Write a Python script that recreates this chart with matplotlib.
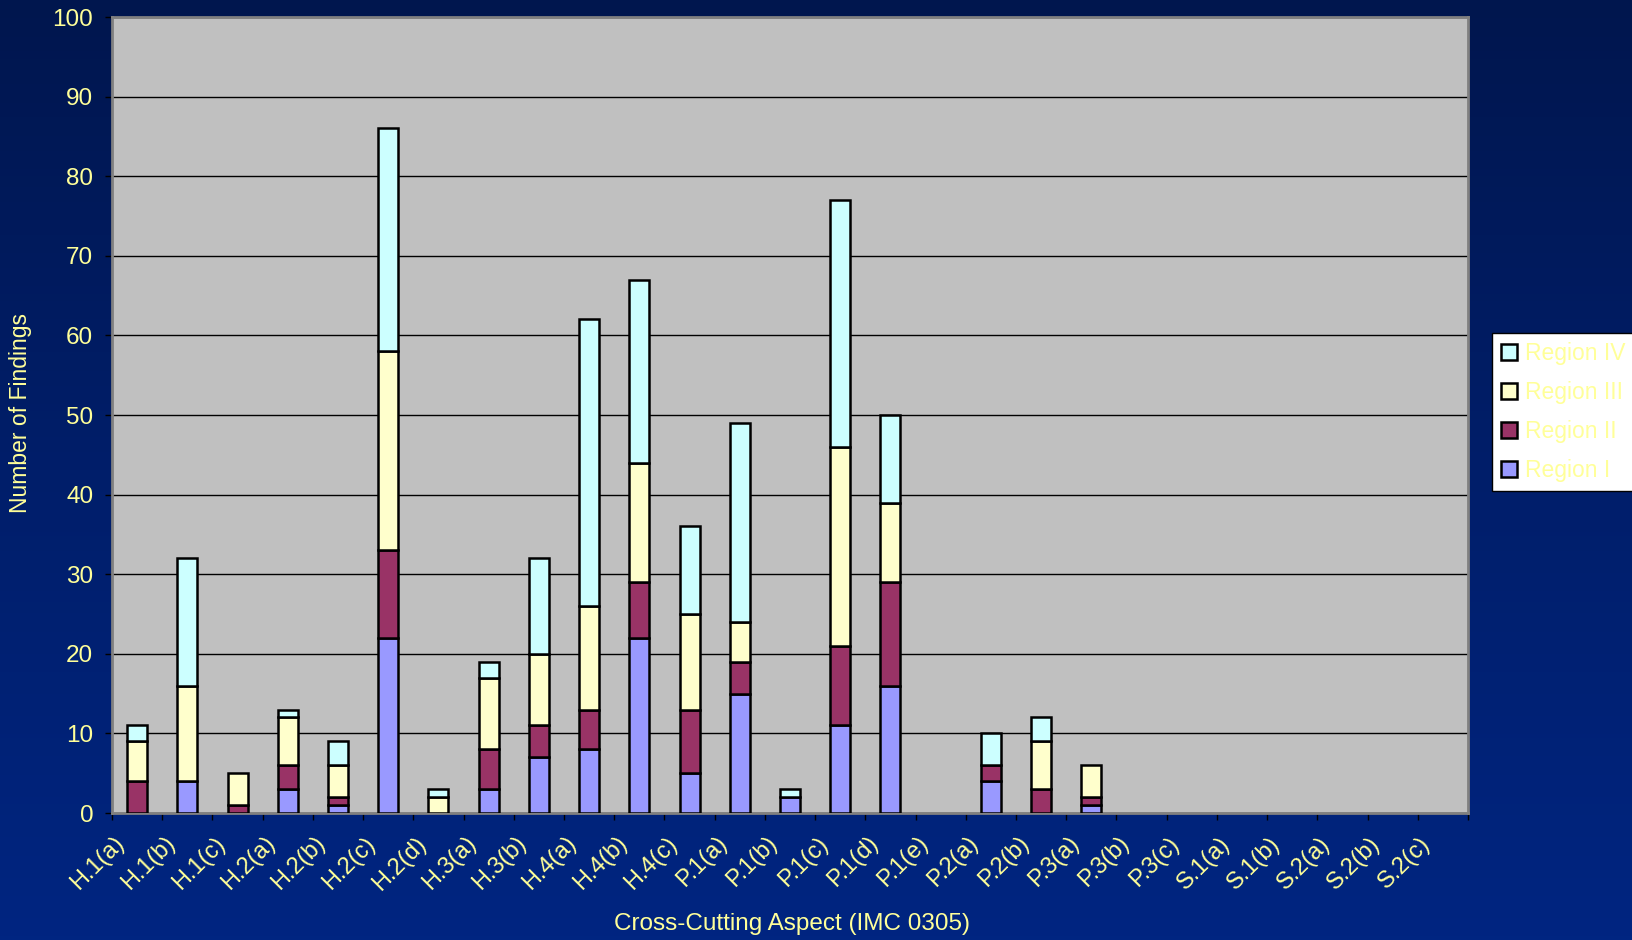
import numpy as np
import matplotlib.pyplot as plt
from matplotlib.patches import Patch
from matplotlib.colors import LinearSegmentedColormap
from matplotlib.transforms import ScaledTranslation

# categories (cross-cutting aspects)
aspects = ["H.1(a)", "H.1(b)", "H.1(c)", "H.2(a)", "H.2(b)", "H.2(c)", "H.2(d)",
           "H.3(a)", "H.3(b)", "H.4(a)", "H.4(b)", "H.4(c)",
           "P.1(a)", "P.1(b)", "P.1(c)", "P.1(d)", "P.1(e)",
           "P.2(a)", "P.2(b)", "P.3(a)", "P.3(b)", "P.3(c)",
           "S.1(a)", "S.1(b)", "S.2(a)", "S.2(b)", "S.2(c)"]

# number of findings per region
region_1 = [0, 4, 0, 3, 1, 22, 0, 3, 7, 8, 22, 5, 15, 2, 11, 16, 0, 4, 0, 1, 0, 0, 0, 0, 0, 0, 0]
region_2 = [4, 0, 1, 3, 1, 11, 0, 5, 4, 5, 7, 8, 4, 0, 10, 13, 0, 2, 3, 1, 0, 0, 0, 0, 0, 0, 0]
region_3 = [5, 12, 4, 6, 4, 25, 2, 9, 9, 13, 15, 12, 5, 0, 25, 10, 0, 0, 6, 4, 0, 0, 0, 0, 0, 0, 0]
region_4 = [2, 16, 0, 1, 3, 28, 1, 2, 12, 36, 23, 11, 25, 1, 31, 11, 0, 4, 3, 0, 0, 0, 0, 0, 0, 0, 0]

series_names = ["Region I", "Region II", "Region III", "Region IV"]
series_colors = ["#9999FF", "#993366", "#FFFFCC", "#CCFFFF"]

plt.rcParams['font.family'] = ['Liberation Sans', 'DejaVu Sans']
text_col = "#FFFF99"

fig = plt.figure(figsize=(16.32, 9.40), dpi=100)

# 背景グラデーション
bg = fig.add_axes([0, 0, 1, 1], zorder=-10)
grad = np.linspace(0, 1, 256).reshape(-1, 1)
cmap = LinearSegmentedColormap.from_list("bg", ["#00164E", "#001E6A", "#002581"])
bg.imshow(grad, aspect="auto", cmap=cmap, extent=[0, 1, 0, 1], origin="upper")
bg.axis("off")

ax = fig.add_axes([112 / 1632, 1 - 813 / 940, 1356 / 1632, 796 / 940])
ax.set_facecolor("#C0C0C0")

x = np.arange(len(aspects))
bottom = np.zeros(len(aspects))
for vals, color, name in zip([region_1, region_2, region_3, region_4], series_colors, series_names):
    vals = np.array(vals, dtype=float)
    idx = vals > 0
    ax.bar(x[idx], vals[idx], 0.4, bottom=bottom[idx], color=color,
           edgecolor="black", linewidth=1.8, zorder=3)
    bottom += vals

ax.set_xlim(-0.5, len(aspects) - 0.5)
ax.set_ylim(0, 100)
ax.set_yticks(range(0, 101, 10))
ax.yaxis.grid(True, color="black", linewidth=1)
ax.set_axisbelow(True)

ax.set_xticks(x)
ax.set_xticklabels(aspects, rotation=45, ha="right")
ax.set_xticks(np.arange(-0.5, len(aspects), 1), minor=True)
ax.tick_params(axis="x", which="major", length=0, pad=14, labelsize=17, labelcolor=text_col)
ax.tick_params(axis="x", which="minor", length=5, width=1, color="black", direction="out")
ax.tick_params(axis="y", length=5, width=1, color="black", pad=8.5, labelsize=17.5, labelcolor=text_col)

# ラベルを少し左へずらす
shift = ScaledTranslation(-8 / 100, 0, fig.dpi_scale_trans)
for lbl in ax.get_xticklabels():
    lbl.set_transform(lbl.get_transform() + shift)

for s in ax.spines.values():
    s.set_color("#808080")
    s.set_linewidth(2)

fig.text(21 / 1632, 1 - 413 / 940, "Number of Findings", rotation=90,
         ha="center", va="center", color=text_col, fontsize=16.5)
fig.text(792 / 1632, 1 - 924 / 940, "Cross-Cutting Aspect (IMC 0305)",
         ha="center", va="center", color=text_col, fontsize=17.5)

# 凡例
handles = [Patch(facecolor=c, edgecolor="black", linewidth=1.8) for c in series_colors][::-1]
leg = fig.legend(handles, series_names[::-1], loc="upper left",
                 bbox_to_anchor=(1492 / 1632, 1 - 333 / 940), fontsize=16.5,
                 handlelength=0.7, handleheight=0.7, handletextpad=0.35,
                 labelspacing=0.7, borderpad=0.4, borderaxespad=0, fancybox=False)
leg.get_frame().set_facecolor("white")
leg.get_frame().set_edgecolor("black")
leg.get_frame().set_linewidth(1)
leg.get_frame().set_alpha(1)
for t in leg.get_texts():
    t.set_color(text_col)

plt.savefig("out.png", dpi=100)
